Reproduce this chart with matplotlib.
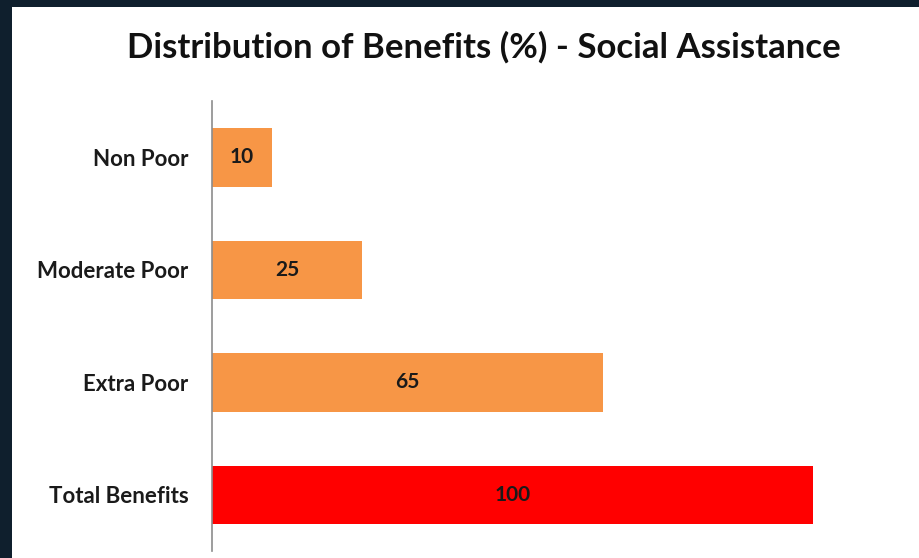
import matplotlib.pyplot as plt

# Benefit shares by group
categories = ['Non Poor', 'Moderate Poor', 'Extra Poor', 'Total Benefits']
shares = [10, 25, 65, 100]
colors = ['#f79646', '#f79646', '#f79646', '#ff0000']

plt.rcParams['font.family'] = ['Lato', 'DejaVu Sans']

fig = plt.figure(figsize=(9.2, 5.58), dpi=100)
fig.patch.set_facecolor('#0f1f2d')

# white panel inside the dark frame
panel = fig.add_axes([12 / 920, 0, 1 - 12 / 920, 1 - 7 / 558])
panel.set_facecolor('white')
panel.set_xticks([])
panel.set_yticks([])
for s in panel.spines.values():
    s.set_visible(False)

ax = fig.add_axes([212 / 920, 7 / 558, (813 - 212) / 920, (550 - 100) / 558])
ax.set_facecolor('none')
y = list(range(len(categories)))
bars = ax.barh(y, shares, height=0.52, color=colors)
ax.set_xlim(0, 100)
ax.set_ylim(len(categories) - 0.5, -0.5)
ax.set_yticks(y)
ax.set_yticklabels(categories, fontsize=16, fontweight='bold', color='#1a1a1a')
ax.tick_params(axis='y', length=0, pad=17)
ax.set_xticks([])
for side in ['top', 'right', 'bottom']:
    ax.spines[side].set_visible(False)
ax.spines['left'].set_color('#8c8c8c')
ax.spines['left'].set_linewidth(1.2)

for b, v in zip(bars, shares):
    ax.text(b.get_width() / 2, b.get_y() + b.get_height() / 2, str(v),
            ha='center', va='center', fontsize=15, fontweight='bold', color='#1a1a1a')

fig.text(484 / 920, 1 - 47 / 558, 'Distribution of Benefits (%) - Social Assistance',
         ha='center', va='center', fontsize=25, fontweight='bold', color='#111111')

fig.savefig('out.png', dpi=100, facecolor=fig.get_facecolor())
